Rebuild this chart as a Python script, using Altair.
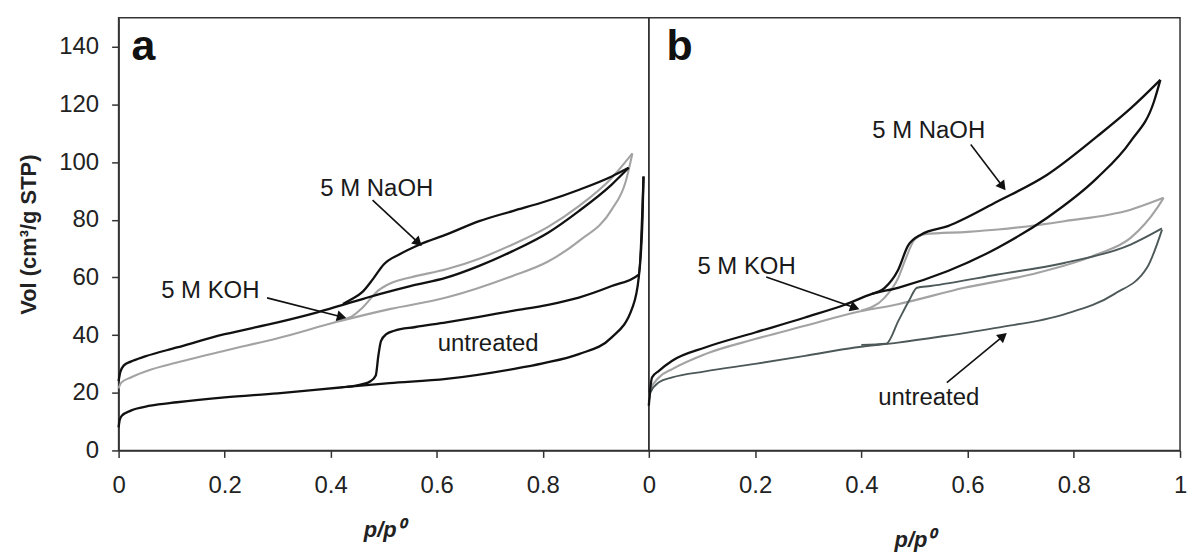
import math
import altair as alt
import pandas as pd

# ---------------- data ----------------
# Panel a
a_naoh_ads_p = [0.000, 0.003, 0.010, 0.023, 0.050, 0.110, 0.200, 0.300, 0.373, 0.423, 0.460, 0.492, 0.550, 0.618, 0.680, 0.743, 0.810, 0.868, 0.930, 0.962]
a_naoh_ads_v = [24.0, 27.0, 29.5, 30.8, 32.6, 35.7, 40.3, 44.4, 47.8, 50.5, 52.5, 54.2, 57.0, 59.9, 64.0, 69.1, 75.5, 83.0, 92.2, 98.0]
a_naoh_des_p = [0.423, 0.440, 0.460, 0.480, 0.500, 0.530, 0.568, 0.620, 0.680, 0.743, 0.806, 0.870, 0.930, 0.962]
a_naoh_des_v = [50.8, 52.5, 55.0, 59.5, 64.5, 68.0, 71.4, 75.0, 79.5, 83.0, 86.4, 90.5, 95.0, 98.0]

a_koh_ads_p = [0.000, 0.005, 0.023, 0.060, 0.110, 0.200, 0.300, 0.410, 0.511, 0.618, 0.743, 0.810, 0.868, 0.930, 0.956, 0.969]
a_koh_ads_v = [21.5, 23.5, 25.3, 28.0, 30.5, 34.6, 38.9, 44.5, 49.0, 53.0, 60.5, 65.5, 72.6, 83.5, 93.0, 103.0]
a_koh_des_p = [0.410, 0.440, 0.460, 0.490, 0.511, 0.550, 0.618, 0.680, 0.743, 0.810, 0.868, 0.930, 0.969]
a_koh_des_v = [45.0, 46.5, 49.5, 55.5, 57.8, 60.0, 62.8, 66.5, 71.4, 77.5, 84.7, 94.5, 103.0]

a_unt_ads_p = [0.000, 0.002, 0.006, 0.023, 0.060, 0.110, 0.200, 0.300, 0.423, 0.511, 0.618, 0.743, 0.800, 0.868, 0.930, 0.969, 0.981, 0.988, 0.990]
a_unt_ads_v = [8.0, 10.5, 12.0, 13.8, 15.5, 16.7, 18.4, 19.8, 21.9, 23.3, 24.8, 28.2, 30.2, 33.4, 39.2, 49.5, 60.0, 80.0, 95.0]
a_unt_des_p = [0.430, 0.460, 0.475, 0.485, 0.490, 0.495, 0.505, 0.520, 0.560, 0.618, 0.680, 0.743, 0.810, 0.868, 0.930, 0.981, 0.990]
a_unt_des_v = [22.0, 23.0, 24.0, 26.0, 33.0, 38.0, 40.3, 41.5, 42.8, 44.4, 46.3, 48.4, 50.5, 53.0, 57.0, 61.0, 95.0]

# Panel b
b_naoh_ads_p = [0.000, 0.002, 0.006, 0.019, 0.044, 0.106, 0.200, 0.294, 0.369, 0.419, 0.469, 0.563, 0.657, 0.750, 0.844, 0.907, 0.951, 0.963]
b_naoh_ads_v = [15.5, 20.0, 25.3, 27.6, 31.1, 35.7, 40.9, 46.1, 50.5, 54.2, 56.4, 62.2, 70.3, 80.7, 94.5, 107.2, 121.0, 128.5]
b_naoh_des_p = [0.420, 0.444, 0.469, 0.488, 0.513, 0.563, 0.657, 0.750, 0.844, 0.907, 0.963]
b_naoh_des_v = [54.3, 56.4, 62.5, 71.0, 74.9, 77.8, 86.4, 95.6, 108.9, 118.6, 128.5]

b_koh_ads_p = [0.000, 0.003, 0.019, 0.044, 0.106, 0.200, 0.294, 0.388, 0.469, 0.594, 0.719, 0.844, 0.907, 0.957, 0.969]
b_koh_ads_v = [17.0, 21.0, 25.3, 28.2, 33.4, 38.6, 43.2, 47.8, 50.7, 56.4, 61.0, 68.0, 73.7, 84.1, 87.6]
b_koh_des_p = [0.400, 0.444, 0.470, 0.482, 0.500, 0.520, 0.600, 0.657, 0.782, 0.907, 0.969]
b_koh_des_v = [48.5, 53.0, 60.0, 65.7, 73.0, 75.0, 75.8, 76.6, 79.5, 83.5, 87.6]

b_unt_ads_p = [0.000, 0.003, 0.019, 0.044, 0.106, 0.200, 0.294, 0.388, 0.469, 0.550, 0.657, 0.782, 0.876, 0.938, 0.966]
b_unt_ads_v = [16.5, 20.0, 23.6, 25.3, 27.4, 30.0, 32.8, 35.7, 37.4, 39.5, 42.6, 47.2, 54.2, 63.4, 76.5]
b_unt_des_p = [0.400, 0.447, 0.470, 0.490, 0.505, 0.530, 0.657, 0.782, 0.907, 0.966]
b_unt_des_v = [36.6, 37.0, 45.0, 52.0, 56.4, 57.0, 61.0, 65.0, 71.4, 77.0]

x_ticks_a = [0, 0.2, 0.4, 0.6, 0.8]
x_ticks_b = [0, 0.2, 0.4, 0.6, 0.8, 1]
y_ticks = [0, 20, 40, 60, 80, 100, 120, 140]

# annotation texts (positions in data units p, v)
labels_a_text = ["5 M NaOH", "5 M KOH", "untreated"]
labels_a_p = [0.487, 0.173, 0.697]
labels_a_v = [90.6, 55.3, 37.0]
labels_b_text = ["5 M NaOH", "5 M KOH", "untreated"]
labels_b_p = [0.527, 0.184, 0.527]
labels_b_v = [110.6, 63.6, 18.0]

# arrows: start (p, v) -> tip (p, v)
arrows_a = [(0.479, 86.8, 0.570, 71.2), (0.280, 52.9, 0.427, 46.0)]
arrows_b = [(0.606, 106.1, 0.670, 90.6), (0.221, 60.1, 0.394, 49.1), (0.561, 23.5, 0.672, 40.4)]

panel_letters = ["a", "b"]
letter_p = [0.047, 0.058]
letter_v = [135.5, 135.5]

# ---------------- layout constants ----------------
W_A, W_B, H = 532, 533, 434
Y_MAX = 150
FONT = "Liberation Sans"
INK = "#111111"

def curve_rows(series, tone, ads_p, ads_v, des_p, des_v):
    rows = []
    for i, (p, v) in enumerate(zip(ads_p, ads_v)):
        rows.append(dict(key=series + "_ads", tone=tone, p=p, v=v, idx=i))
    for i, (p, v) in enumerate(zip(des_p, des_v)):
        rows.append(dict(key=series + "_des", tone=tone, p=p, v=v, idx=i))
    return rows

df_a = pd.DataFrame(
    curve_rows("koh", "light", a_koh_ads_p, a_koh_ads_v, a_koh_des_p, a_koh_des_v)
    + curve_rows("naoh", "black", a_naoh_ads_p, a_naoh_ads_v, a_naoh_des_p, a_naoh_des_v)
    + curve_rows("unt", "black", a_unt_ads_p, a_unt_ads_v, a_unt_des_p, a_unt_des_v)
)
df_b = pd.DataFrame(
    curve_rows("koh", "light", b_koh_ads_p, b_koh_ads_v, b_koh_des_p, b_koh_des_v)
    + curve_rows("unt", "dark", b_unt_ads_p, b_unt_ads_v, b_unt_des_p, b_unt_des_v)
    + curve_rows("naoh", "black", b_naoh_ads_p, b_naoh_ads_v, b_naoh_des_p, b_naoh_des_v)
)

tone_color = alt.Scale(domain=["black", "light", "dark"], range=[INK, "#a3a3a3", "#4d5858"])
tone_width = alt.Scale(domain=["black", "light", "dark"], range=[2.3, 1.9, 1.9])


def arrow_frames(arrows, width):
    line_rows, head_rows = [], []
    for (p1, v1, p2, v2) in arrows:
        dx = (p2 - p1) * width
        dy = -(v2 - v1) * H / Y_MAX
        L = math.hypot(dx, dy)
        ux, uy = dx / L, dy / L
        ang = math.degrees(math.atan2(dx, -dy)) % 360
        back = 5.0
        hp = p2 - ux * back / width
        hv = v2 + uy * back * Y_MAX / H
        line_rows.append(dict(p=p1, v=v1, p2=hp, v2=hv))
        head_rows.append(dict(p=hp, v=hv, ang=ang))
    return pd.DataFrame(line_rows), pd.DataFrame(head_rows)


def panel(df, width, xticks, labels_text, labels_p, labels_v, arrows, letter, lp, lv, left):
    xs = alt.Scale(domain=[0, 1], nice=False, zero=False)
    ys = alt.Scale(domain=[0, Y_MAX], nice=False)
    x_axis = alt.Axis(
        values=xticks, format="~g", title="p/p⁰", titleFontStyle="italic",
        titleFontWeight="bold", titleFontSize=22, titleFont=FONT, titleColor="#222",
        titlePadding=22 if left else 32, labelPadding=16, labelFlush=False,
    )
    if left:
        y_axis = alt.Axis(
            values=y_ticks, title="Vol (cm³/g STP)", titleFontWeight="bold", titleFontSize=22,
            titleFont=FONT, titleColor="#222", titlePadding=18, labelPadding=13)
        y_enc = alt.Y("v:Q", scale=ys, axis=y_axis, title="Vol (cm³/g STP)")
    else:
        y_enc = alt.Y("v:Q", scale=ys, axis=None)

    lines = alt.Chart(df).mark_line(interpolate="monotone").encode(
        x=alt.X("p:Q", scale=xs, axis=x_axis, title="p/p⁰"),
        y=y_enc,
        detail="key:N",
        order="idx:Q",
        color=alt.Color("tone:N", scale=tone_color, legend=None),
        strokeWidth=alt.StrokeWidth("tone:N", scale=tone_width, legend=None),
    )

    xe = alt.X("p:Q", title="p/p⁰")
    ye = alt.Y("v:Q", title="Vol (cm³/g STP)")

    lab_df = pd.DataFrame(dict(t=labels_text, p=labels_p, v=labels_v))
    texts = alt.Chart(lab_df).mark_text(
        font=FONT, fontSize=24, color="#1a1a1a", align="center", baseline="middle"
    ).encode(x=xe, y=ye, text="t:N")

    let_df = pd.DataFrame(dict(t=[letter], p=[lp], v=[lv]))
    letter_mark = alt.Chart(let_df).mark_text(
        font=FONT, fontSize=43, fontWeight="bold", color="#111", align="center", baseline="alphabetic"
    ).encode(x=xe, y=ye, text="t:N")

    ldf, hdf = arrow_frames(arrows, width)
    rules = alt.Chart(ldf).mark_rule(color=INK, strokeWidth=1.6).encode(
        x=xe, y=ye, x2="p2:Q", y2="v2:Q")
    heads = alt.Chart(hdf).mark_point(shape="triangle", filled=True, size=120, color=INK, opacity=1).encode(
        x=xe, y=ye, angle=alt.Angle("ang:Q", scale=None))

    return alt.layer(lines, rules, heads, texts, letter_mark).properties(width=width, height=H)


left_chart = panel(df_a, W_A, x_ticks_a, labels_a_text, labels_a_p, labels_a_v, arrows_a,
                   panel_letters[0], letter_p[0], letter_v[0], True)
right_chart = panel(df_b, W_B, x_ticks_b, labels_b_text, labels_b_p, labels_b_v, arrows_b,
                    panel_letters[1], letter_p[1], letter_v[1], False)

chart = alt.hconcat(left_chart, right_chart, spacing=0, bounds="flush").properties(
    padding={"left": 17, "top": 16, "right": 2, "bottom": 2},
    background="white",
).configure_view(
    stroke="#333", strokeWidth=1.5
).configure_axis(
    grid=False, domainColor="#333", domainWidth=1.5, tickColor="#333", tickWidth=1.5, tickSize=7,
    labelFont=FONT, labelFontSize=24, labelColor="#222",
)

chart.save("out.html", embed_options={"renderer": "svg", "actions": False})
